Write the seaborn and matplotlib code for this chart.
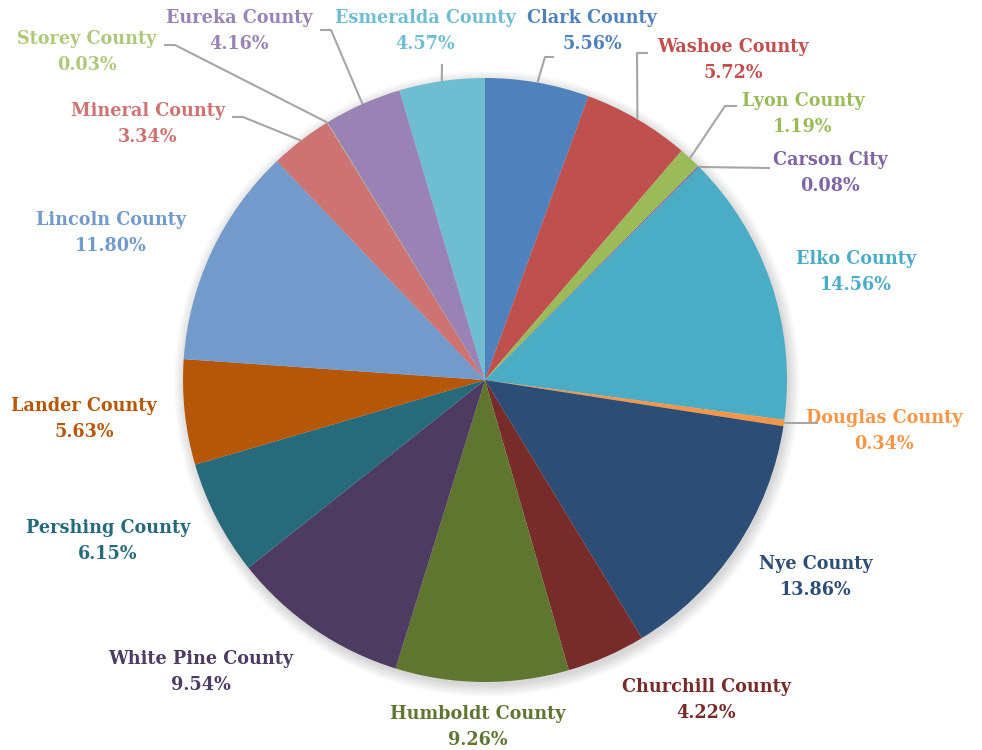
import numpy as np
import seaborn as sns
from matplotlib import pyplot as plt
from matplotlib.patches import Circle

# DATA
COUNTIES = [
    "Clark County", "Washoe County", "Lyon County", "Carson City",
    "Elko County", "Douglas County", "Nye County", "Churchill County",
    "Humboldt County", "White Pine County", "Pershing County",
    "Lander County", "Lincoln County", "Mineral County", "Storey County",
    "Eureka County", "Esmeralda County",
]
SHARES = [
    5.56, 5.72, 1.19, 0.08, 14.56, 0.34, 13.86, 4.22,
    9.26, 9.54, 6.15, 5.63, 11.80, 3.34, 0.03, 4.16, 4.57,
]
COLORS = [
    "#4F81BD", "#C0504D", "#9BBB59", "#8064A2", "#4BACC6", "#F79646",
    "#2C4D75", "#772C2A", "#5F7530", "#4D3B62", "#276A7C", "#B65708",
    "#729ACA", "#CD7371", "#AFC97A", "#9983B5", "#6FBDD1",
]

# LAYOUT (pixels in the 982x750 canvas)
W, H = 982, 750
CX, CY, R = 485, 380, 302
LABEL_XY = {
    "Clark County": (592, 31), "Washoe County": (733, 60),
    "Lyon County": (803, 114), "Carson City": (830, 173),
    "Elko County": (856, 272), "Douglas County": (884, 431),
    "Nye County": (816, 577), "Churchill County": (706, 700),
    "Humboldt County": (478, 727), "White Pine County": (201, 672),
    "Pershing County": (108, 541), "Lander County": (84, 419),
    "Lincoln County": (111, 233), "Mineral County": (148, 124),
    "Storey County": (87, 52), "Eureka County": (239, 31),
    "Esmeralda County": (425, 31),
}
# leader lines: elbow point, end point
LEADERS = {
    "Clark County": [(545, 57), (554, 57)],
    "Washoe County": [(637, 53), (648, 53)],
    "Lyon County": [(725, 106), (737, 106)],
    "Carson City": [(700, 167), (770, 168)],
    "Douglas County": [(784, 423), (818, 423)],
    "Mineral County": [(243, 117), (232, 117)],
    "Storey County": [(175, 45), (164, 45)],
    "Eureka County": [(331, 30), (320, 30)],
    "Esmeralda County": [(442, 64), (442, 64)],
}


def px(x, y):
    return (x - CX) / R, (CY - y) / R


def main():
    sns.set_theme(style="white")
    plt.rcParams["font.family"] = ["DejaVu Serif"]

    fig = plt.figure(figsize=(W / 100, H / 100), dpi=100)
    ax = fig.add_axes([0, 0, 1, 1])

    # soft shadow behind the pie
    for i in range(10):
        ax.add_patch(Circle((0.006, -0.012), 1.0 + 0.004 * i,
                            color="black", alpha=0.015, lw=0, zorder=0))

    palette = sns.color_palette(COLORS)
    wedges, _ = ax.pie(SHARES, colors=palette, startangle=90,
                       counterclock=False, radius=1.0, center=(0, 0),
                       wedgeprops=dict(linewidth=0, edgecolor="none"),
                       frame=True)
    ax.set_xlim(-CX / R, (W - CX) / R)
    ax.set_ylim((CY - H) / R, CY / R)
    ax.axis("off")

    for wedge, name, val, col in zip(wedges, COUNTIES, SHARES, COLORS):
        lx, ly = px(*LABEL_XY[name])
        ax.text(lx, ly, f"{name}\n{val:.2f}%", color=col, ha="center",
                va="center", fontsize=12.7, fontweight="bold",
                linespacing=1.6)
        if name in LEADERS:
            mid = np.deg2rad((wedge.theta1 + wedge.theta2) / 2)
            x0, y0 = np.cos(mid), np.sin(mid)
            (ex, ey), (fx, fy) = [px(*p) for p in LEADERS[name]]
            ax.plot([x0, ex, fx], [y0, ey, fy], color="#A6A6A6", lw=1.5,
                    solid_capstyle="butt", zorder=3)

    plt.savefig("out.png", dpi=100, facecolor="white")


if __name__ == "__main__":
    main()
